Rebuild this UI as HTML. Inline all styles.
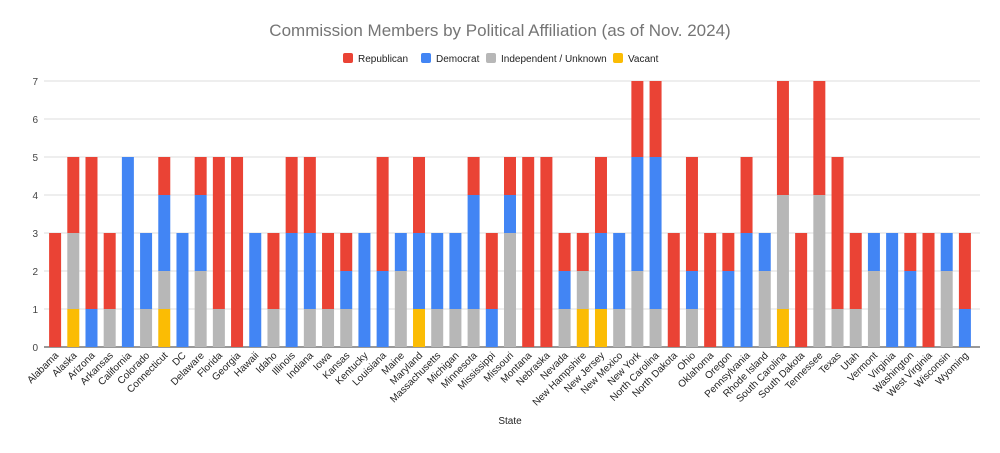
<!DOCTYPE html>
<html><head><meta charset="utf-8"><style>
body{margin:0;background:#fff;font-family:"Liberation Sans",Arial,sans-serif}
</style></head><body>
<svg id="chart" width="1000" height="448" xmlns="http://www.w3.org/2000/svg" font-family="Liberation Sans, Arial, sans-serif">
<text x="500" y="36" text-anchor="middle" font-size="17" fill="#757575">Commission Members by Political Affiliation (as of Nov. 2024)</text>
<g id="legend"></g>
<g id="grid"></g><g id="bars"></g><g id="xlabels"></g>
<text x="510" y="424" text-anchor="middle" font-size="10" fill="#222">State</text>
</svg>
<script>
const states=["Alabama","Alaska","Arizona","Arkansas","California","Colorado","Connecticut","DC","Delaware","Florida","Georgia","Hawaii","Idaho","Illinois","Indiana","Iowa","Kansas","Kentucky","Louisiana","Maine","Maryland","Massachusetts","Michigan","Minnesota","Mississippi","Missouri","Montana","Nebraska","Nevada","New Hampshire","New Jersey","New Mexico","New York","North Carolina","North Dakota","Ohio","Oklahoma","Oregon","Pennsylvania","Rhode Island","South Carolina","South Dakota","Tennessee","Texas","Utah","Vermont","Virginia","Washington","West Virginia","Wisconsin","Wyoming"];
const vacant=[0,1,0,0,0,0,1,0,0,0,0,0,0,0,0,0,0,0,0,0,1,0,0,0,0,0,0,0,0,1,1,0,0,0,0,0,0,0,0,0,1,0,0,0,0,0,0,0,0,0,0];
const independent=[0,2,0,1,0,1,1,0,2,1,0,0,1,0,1,1,1,0,0,2,0,1,1,1,0,3,0,0,1,1,0,1,2,1,0,1,0,0,0,2,3,0,4,1,1,2,0,0,0,2,0];
const democrat=[0,0,1,0,5,2,2,3,2,0,0,3,0,3,2,0,1,3,2,1,2,2,2,3,1,1,0,0,1,0,2,2,3,4,0,1,0,2,3,1,0,0,0,0,0,1,3,2,0,1,1];
const republican=[3,2,4,2,0,0,1,0,1,4,5,0,2,2,2,2,1,0,3,0,2,0,0,1,2,1,5,5,1,1,2,0,2,2,3,3,3,1,2,0,3,3,3,4,2,0,0,1,3,0,2];
const yTicks=[0,1,2,3,4,5,6,7];
const seriesNames=["Republican","Democrat","Independent / Unknown","Vacant"];
const NS="http://www.w3.org/2000/svg";
const X0=46,X1=974,Y0=347,Y1=81,YMAX=7;
const step=(X1-X0)/states.length,bw=12;
function y(v){return Y0-(v/YMAX)*(Y0-Y1);}
function xc(i){return X0+step*(i+0.5);}
function mk(t,a,p){const e=document.createElementNS(NS,t);for(const k in a)e.setAttribute(k,a[k]);p.appendChild(e);return e;}
const grid=document.getElementById('grid');
yTicks.forEach(t=>{
 const l=mk('line',{x1:X0-2,x2:X1+6,y1:y(t),y2:y(t),stroke:t===0?'#333':'#ddd','stroke-width':1},grid);
 
 
 const tx=mk('text',{x:38,y:y(t)+4,'text-anchor':'end','font-size':10,fill:'#444'},grid);tx.textContent=t;
 
 
});
const colors={vacant:'#fbbc04',independent:'#b7b7b7',democrat:'#4285f4',republican:'#ea4335'};
const bars=document.getElementById('bars'),xl=document.getElementById('xlabels');
states.forEach((s,i)=>{
 let base=0;
 [['vacant',vacant],['independent',independent],['democrat',democrat],['republican',republican]].forEach(([k,arr])=>{
  const v=arr[i];if(!v)return;
  const r=mk('rect',{x:xc(i)-bw/2,y:y(base+v),width:bw,height:y(base)-y(base+v),fill:colors[k]},bars);
  
  
  base+=v;
 });
 const t=mk('text',{x:xc(i)+4,y:356,'text-anchor':'end','font-size':10,fill:'#222',transform:`rotate(-45 ${xc(i)+4} 356)`},xl);
 t.textContent=s;
 
 
});
const leg=document.getElementById('legend');
const legX=[343,421,486,613],legC=[colors.republican,colors.democrat,colors.independent,colors.vacant];
seriesNames.forEach((n,i)=>{
 const g=mk('g',{},leg);
 
 
 mk('rect',{x:legX[i],y:53,width:10,height:10,rx:2,fill:legC[i]},g);
 const t=mk('text',{x:legX[i]+15,y:62,'font-size':10,fill:'#222'},g);t.textContent=n;
});
</script>
</body></html>
